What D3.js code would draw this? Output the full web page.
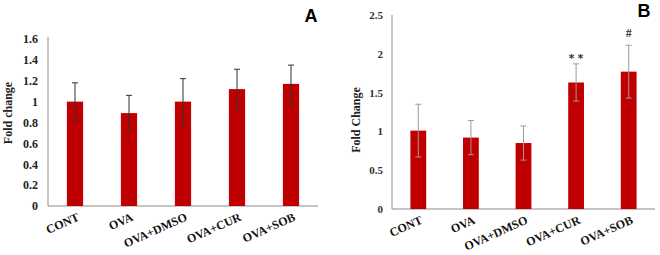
<!DOCTYPE html>
<html>
<head>
<meta charset="utf-8">
<script src="https://cdn.jsdelivr.net/npm/d3@7"></script>
<style>
  body { margin: 0; background: #fff; }
  text { font-family: "Liberation Serif", "Times New Roman", serif; font-weight: bold; }
</style>
</head>
<body>
<svg id="chart" width="660" height="255"></svg>
<script>
const categories = ["CONT", "OVA", "OVA+DMSO", "OVA+CUR", "OVA+SOB"];

const valuesA = [1.0, 0.89, 1.0, 1.12, 1.17];
const errA = [0.18, 0.17, 0.22, 0.19, 0.18];
const ticksA = [0, 0.2, 0.4, 0.6, 0.8, 1, 1.2, 1.4, 1.6];

const valuesB = [1.01, 0.92, 0.85, 1.63, 1.77];
const errB = [0.34, 0.22, 0.22, 0.24, 0.34];
const marksB = ["", "", "", "* *", "#"];
const ticksB = [0, 0.5, 1, 1.5, 2, 2.5];

const barColor = "#c00000";
const svg = d3.select('#chart');

function drawPanel(cfg) {
    const g = svg.append('g');

    const x = d3.scaleBand().domain(categories).range([cfg.x0, cfg.x1]).padding(0);
    const y = d3.scaleLinear().domain([0, cfg.max]).range([cfg.y0, cfg.yTop]);
    const barW = x.bandwidth() * 0.3;

    // axes
    g.append('g')
        .attr('transform', `translate(${cfg.x0}, 0)`)
        .call(d3.axisLeft(y).tickValues(cfg.ticks).tickSize(0).tickPadding(cfg.pad).tickFormat(d => String(+d.toFixed(1))))
        .call(a => a.select('.domain').remove())
        .selectAll('text')
        .style('font-size', cfg.tickSize)
        .style('font-family', '"Liberation Serif", serif')
        .attr('fill', cfg.tickColor);

    g.append('line')
        .attr('x1', cfg.x0).attr('x2', cfg.x0)
        .attr('y1', cfg.y0).attr('y2', cfg.axisTop)
        .attr('stroke', '#8c8c8c');
    g.append('line')
        .attr('x1', cfg.x0).attr('x2', cfg.x1)
        .attr('y1', cfg.y0).attr('y2', cfg.y0)
        .attr('stroke', '#8c8c8c');

    // bars
    g.selectAll('.bar')
        .data(cfg.values)
        .enter()
        .append('rect')
        .attr('x', (d, i) => x(categories[i]) + x.bandwidth() / 2 - barW / 2)
        .attr('y', d => y(d))
        .attr('width', barW)
        .attr('height', d => cfg.y0 - y(d))
        .attr('fill', barColor);

    // error bars
    cfg.values.forEach((v, i) => {
        const cx = x(categories[i]) + x.bandwidth() / 2;
        const hi = y(v + cfg.errs[i]);
        const lo = y(v - cfg.errs[i]);
        g.append('line').attr('x1', cx).attr('x2', cx).attr('y1', hi).attr('y2', lo)
            .attr('stroke', cfg.errColor).attr('stroke-width', 1);
        [hi, lo].forEach(yy => {
            g.append('line').attr('x1', cx - 3).attr('x2', cx + 3).attr('y1', yy).attr('y2', yy)
                .attr('stroke', cfg.errColor).attr('stroke-width', 1);
        });
        if (cfg.marks && cfg.marks[i]) {
            g.append('text')
                .attr('x', cx)
                .attr('y', hi - (cfg.marks[i] === '#' ? 8 : 2))
                .attr('text-anchor', 'middle')
                .style('font-size', '12px')
                .attr('fill', '#333')
                .text(cfg.marks[i]);
        }
    });

    // category labels
    categories.forEach(c => {
        const cx = x(c) + x.bandwidth() / 2 + 5;
        g.append('text')
            .attr('transform', `translate(${cx}, ${cfg.y0 + 14}) rotate(-24)`)
            .attr('text-anchor', 'end')
            .style('font-size', '12px')
            .attr('fill', '#111')
            .text(c);
    });

    // y label
    g.append('text')
        .attr('transform', `translate(${cfg.labelX}, ${cfg.labelY}) rotate(-90)`)
        .attr('text-anchor', 'middle')
        .style('font-size', '12px')
        .attr('fill', '#222')
        .text(cfg.yLabel);

    // panel letter
    g.append('text')
        .attr('x', cfg.letterX)
        .attr('y', cfg.letterY)
        .attr('text-anchor', 'middle')
        .style('font-family', '"Liberation Sans", Arial, sans-serif')
        .style('font-size', '18px')
        .attr('fill', '#000')
        .text(cfg.letter);
}

drawPanel({
    x0: 48, x1: 318, y0: 206, yTop: 39, axisTop: 37, max: 1.6,
    ticks: ticksA, pad: 10, tickSize: '12px', tickColor: '#222',
    values: valuesA, errs: errA, errColor: '#333',
    yLabel: 'Fold change', labelX: 12, labelY: 113,
    letter: 'A', letterX: 311, letterY: 22
});

drawPanel({
    x0: 392, x1: 655, y0: 209, yTop: 15, axisTop: 15, max: 2.5,
    ticks: ticksB, pad: 9, tickSize: '11px', tickColor: '#333',
    values: valuesB, errs: errB, errColor: '#9a9a9a', marks: marksB,
    yLabel: 'Fold Change', labelX: 360, labelY: 120,
    letter: 'B', letterX: 644, letterY: 17
});
</script>
</body>
</html>
